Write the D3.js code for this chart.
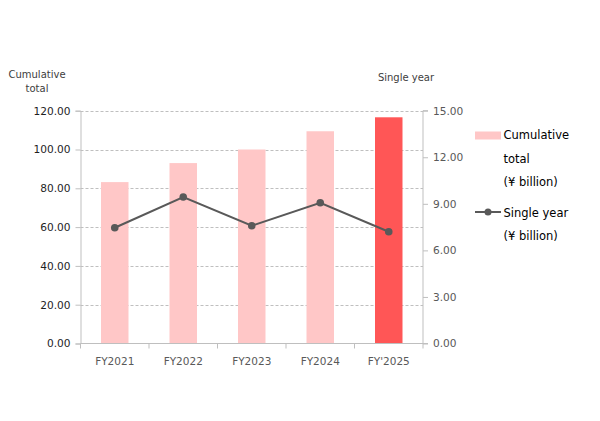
<!DOCTYPE html>
<html><head><meta charset="utf-8">
<script src="https://cdn.jsdelivr.net/npm/d3@7"></script>
<style>body{margin:0;background:#fff}svg{display:block}text{font-family:"DejaVu Sans",Verdana,sans-serif}</style>
</head><body><svg id="c" width="600" height="421"></svg>
<script>
const categories = ["FY2021","FY2022","FY2023","FY2024","FY'2025"];
const cumulative = [83.2, 93.0, 100.0, 109.4, 116.6];
const singleYear = [7.46, 9.44, 7.59, 9.07, 7.20];
const leftTicks = [0,20,40,60,80,100,120];
const rightTicks = [0,3,6,9,12,15];
const barColors = ["#ffc7c7","#ffc7c7","#ffc7c7","#ffc7c7","#ff5656"];

const svg = d3.select("#c");
const L = 80.5, R = 423, T = 110.7, B = 343.5;
const x = d3.scaleBand().domain(categories).range([L, R]).paddingInner(0).paddingOuter(0);
const yL = d3.scaleLinear().domain([0,120]).range([B, T]);
const yR = d3.scaleLinear().domain([0,15]).range([B, T]);

// gridlines
svg.append("g").selectAll("line").data(leftTicks.slice(1)).join("line")
  .attr("x1", L).attr("x2", R).attr("y1", d=>Math.round(yL(d))+0.5).attr("y2", d=>Math.round(yL(d))+0.5)
  .attr("stroke", "#bfbfbf").attr("stroke-width", 1).attr("stroke-dasharray", "3,2");

// bars
const bw = 27.5;
svg.append("g").selectAll("rect").data(categories).join("rect")
  .attr("x", d=>x(d)+x.bandwidth()/2-bw/2).attr("width", bw)
  .attr("y", (d,i)=>yL(cumulative[i])).attr("height", (d,i)=>B-yL(cumulative[i]))
  .attr("fill", (d,i)=>barColors[i]);

// left axis
const gL = svg.append("g").attr("transform", `translate(${L},0)`)
  .call(d3.axisLeft(yL).tickValues(leftTicks).tickFormat(d3.format(".2f")).tickSize(5).tickPadding(5));
gL.selectAll("path,line").attr("stroke", "#bfbfbf");
gL.selectAll("text").attr("fill", "#1f1f1f").style("font-size", "10.6px");

// right axis
const gR = svg.append("g").attr("transform", `translate(${R},0)`)
  .call(d3.axisRight(yR).tickValues(rightTicks).tickFormat(d3.format(".2f")).tickSize(5).tickPadding(5));
gR.selectAll("path,line").attr("stroke", "#bfbfbf");
gR.selectAll("text").attr("fill", "#595959").style("font-size", "10.6px");
gR.select("path").attr("d", `M5,${T}H0V${B}H5`);

// bottom axis
const gB = svg.append("g").attr("transform", `translate(0,${B})`)
  .call(d3.axisBottom(x).tickSize(0).tickPadding(14));
gB.select("path").attr("stroke", "#bfbfbf").attr("d", `M${L},0H${R}`);
gB.selectAll("text").attr("fill", "#595959").style("font-size", "10.5px");
svg.append("g").selectAll("line").data(d3.range(categories.length+1)).join("line")
  .attr("x1", i=>L+i*x.bandwidth()).attr("x2", i=>L+i*x.bandwidth())
  .attr("y1", B).attr("y2", B+5).attr("stroke", "#bfbfbf");

// line
const cx = d=>x(d)+x.bandwidth()/2;
svg.append("path").datum(categories)
  .attr("d", d3.line().x(cx).y((d,i)=>yR(singleYear[i])))
  .attr("fill", "none").attr("stroke", "#595959").attr("stroke-width", 2);
svg.append("g").selectAll("circle").data(categories).join("circle")
  .attr("cx", cx).attr("cy", (d,i)=>yR(singleYear[i])).attr("r", 3.8).attr("fill", "#595959");

// axis titles
svg.append("text").attr("x", 37).attr("y", 78).attr("text-anchor", "middle").attr("fill", "#404040").style("font-size", "10px").text("Cumulative");
svg.append("text").attr("x", 37).attr("y", 92).attr("text-anchor", "middle").attr("fill", "#404040").style("font-size", "10px").text("total");
svg.append("text").attr("x", 406).attr("y", 81).attr("text-anchor", "middle").attr("fill", "#404040").style("font-size", "10px").text("Single year");

// legend
svg.append("rect").attr("x", 475).attr("y", 131.5).attr("width", 26).attr("height", 8).attr("fill", "#ffc7c7");
const lg = [["Cumulative",139],["total",162.5],["(¥ billion)",186]];
lg.forEach(([t,y])=>svg.append("text").attr("x", 503.5).attr("y", y).attr("fill", "#000").style("font-size", "11.5px").text(t));
svg.append("line").attr("x1", 475).attr("x2", 501).attr("y1", 212).attr("y2", 212).attr("stroke", "#595959").attr("stroke-width", 2);
svg.append("circle").attr("cx", 488).attr("cy", 212).attr("r", 3.5).attr("fill", "#595959");
[["Single year",216.5],["(¥ billion)",240]].forEach(([t,y])=>svg.append("text").attr("x", 503.5).attr("y", y).attr("fill", "#000").style("font-size", "11.5px").text(t));
</script></body></html>
